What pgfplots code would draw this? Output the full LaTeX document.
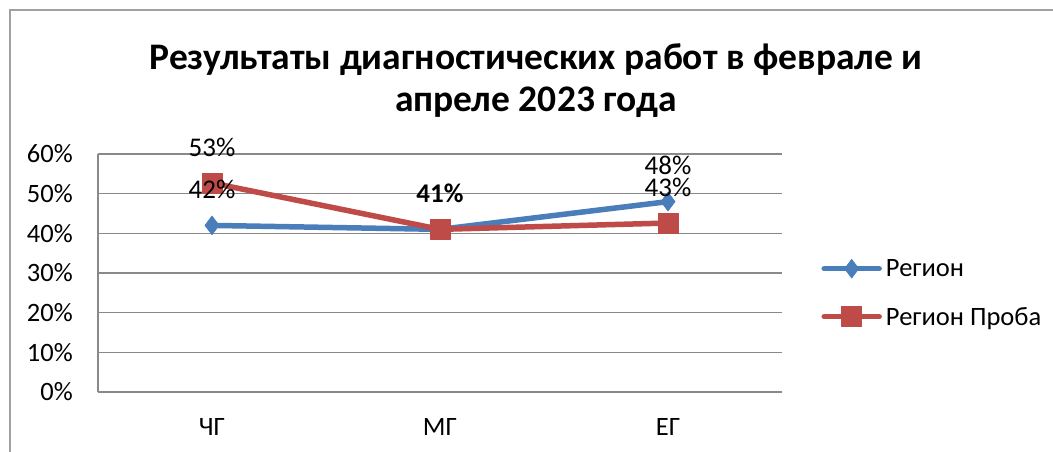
\documentclass[border=0pt]{standalone}
\usepackage{fontspec}
\setmainfont{Carlito}
\usepackage{pgfplots}
\pgfplotsset{compat=1.18}
\definecolor{serA}{HTML}{4A7EBB}
\definecolor{serB}{HTML}{BE4B48}
\definecolor{gridc}{HTML}{898989}
\begin{document}
\begin{tikzpicture}[x=1pt,y=1pt]
\useasboundingbox (0,0) rectangle (1053,452);
\draw[color=gridc!80, line width=2pt] (10,-10) -- (10,442) -- (1063,442);
\node[font=\fontsize{37.5}{40}\selectfont\bfseries, anchor=base, inner sep=0pt] at (536,382) {Результаты диагностических работ в феврале и};
\node[font=\fontsize{37.5}{40}\selectfont\bfseries, anchor=base, inner sep=0pt] at (536,340) {апреле 2023 года};
\begin{axis}[
  at={(98pt,60pt)}, anchor=south west,
  scale only axis, width=684pt, height=238pt,
  xmin=-0.5, xmax=2.5, ymin=0, ymax=60,
  ytick={0,10,...,60},
  /pgf/number format/assume math mode=true,
  yticklabel={\pgfmathprintnumber{\tick}\%},
  xtick={0,1,2}, xticklabels={ЧГ,МГ,ЕГ},
  ymajorgrids, grid style={gridc, line width=1.5pt},
  axis x line*=bottom, axis y line*=left,
  axis line style={gridc, line width=1.5pt, -},
  major tick length=0pt,
  tick label style={font=\fontsize{26.5}{28}\selectfont},
  yticklabel style={anchor=east, inner sep=0pt, xshift=-25pt},
  xticklabel style={anchor=base, inner sep=0pt, yshift=-44pt},
  clip=false,
  legend style={draw=none, fill=none, at={(axis description cs:1.053,0.416)}, anchor=west,
    font=\fontsize{26.5}{28}\selectfont, row sep=27pt, column sep=3pt,
    nodes={inner sep=1pt}},
  legend cell align=left,
  legend image code/.code={
    \draw[mark repeat=2, mark phase=2, #1] plot coordinates {(0pt,0pt) (27.5pt,0pt) (55pt,0pt)};
  },
]
\addplot[color=serA, line width=5.5pt, line cap=round, line join=round,
  mark=diamond*, mark size=9.5pt, mark options={solid, fill=serA, draw=serA, line width=0.5pt}]
  coordinates {(0,42) (1,41) (2,48)};
\addlegendentry{Регион}
\addplot[color=serB, line width=5.5pt, line cap=round, line join=round,
  mark=square*, mark size=10pt, mark options={solid, fill=serB, draw=serB, line width=0.5pt}]
  coordinates {(0,52.7) (1,41) (2,42.6)};
\addlegendentry{Регион Проба}
\addplot[draw=none, mark=none, forget plot, point meta=explicit symbolic,
  nodes near coords, every node near coord/.style={anchor=center, yshift=36pt, inner sep=0pt,
  font=\fontsize{27}{28}\selectfont, color=black}]
  coordinates {(0,42)[42\%] (2,48)[48\%] (0,52.7)[53\%] (1,41)[\textbf{41\%}] (2,42.6)[43\%]};
\end{axis}
\end{tikzpicture}
\end{document}
